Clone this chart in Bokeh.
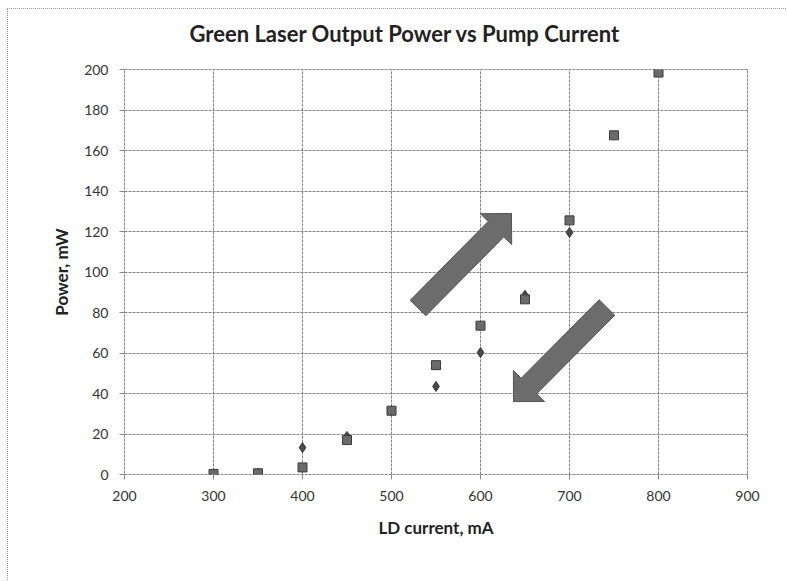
import numpy as np
from bokeh.plotting import figure
from bokeh.models import FixedTicker, Title
from bokeh.embed import file_html
from bokeh.resources import INLINE

# ---- data ----
current_sq = [300, 350, 400, 450, 500, 550, 600, 650, 700, 750, 800]
power_sq = [0.3, 0.6, 3.5, 17, 31.5, 54, 73.5, 86.5, 125.5, 167.5, 198.5]
current_di = [300, 350, 400, 450, 500, 550, 600, 650, 700]
power_di = [0.3, 0.6, 13.3, 18.8, 31.5, 43.5, 60.2, 88.5, 119.5]
x_ticks = [200, 300, 400, 500, 600, 700, 800, 900]
y_ticks = [0, 20, 40, 60, 80, 100, 120, 140, 160, 180, 200]

# arrow annotations (tail, tip) in data units
arrows = [((529.8, 82.2), (634.8, 128.9)),
          ((742.1, 82.5), (637.1, 36.0))]

FW, FH = 623, 405
X0, X1, Y0, Y1 = 200, 900, 0, 200
kx = FW / (X1 - X0)
ky = FH / (Y1 - Y0)
OFFX, OFFY = 8, 9          # margin + border of the figure element
ML, MT = 124 - OFFX, 69 - OFFY

p = figure(output_backend="svg", toolbar_location=None,
           frame_width=FW, frame_height=FH,
           x_range=(X0, X1), y_range=(Y0, Y1),
           min_border_left=ML, min_border_right=787 - OFFX - ML - FW - 1,
           min_border_top=MT, min_border_bottom=581 - OFFY - MT - FH - 1,
           background_fill_color="white", border_fill_color="white")
p.styles = {"margin-left": "7px", "margin-top": "8px",
            "border-left": "1px dotted #9a9a9a", "border-top": "1px dotted #9a9a9a"}

# spacer between the title and the frame
p.add_layout(Title(text=" ", text_font_size="5px", text_color="white"), "above")

p.title.text = "Green Laser Output Power vs Pump Current"
p.title.text_font = "Lato"
p.title.text_font_style = "bold"
p.title.text_font_size = "22px"
p.title.text_color = "#222222"
p.title.align = "left"
p.title.offset = 65

p.xaxis.ticker = FixedTicker(ticks=x_ticks)
p.yaxis.ticker = FixedTicker(ticks=y_ticks)
for ax in (p.xaxis, p.yaxis):
    ax.major_label_text_font = "Lato"
    ax.major_label_text_font_size = "14px"
    ax.major_label_text_color = "#333333"
    ax.axis_label_text_font = "Lato"
    ax.axis_label_text_font_style = "bold"
    ax.axis_label_text_font_size = "17px"
    ax.axis_label_text_color = "#222222"
    ax.axis_line_color = None
    ax.major_tick_line_color = "#888888"
    ax.major_tick_in = 0
    ax.major_tick_out = 5
    ax.minor_tick_line_color = None
p.xaxis.axis_label = "LD current, mA"
p.yaxis.axis_label = "Power, mW"
p.xaxis.major_label_standoff = 11
p.yaxis.major_label_standoff = 11
p.xaxis.axis_label_standoff = 13
p.yaxis.axis_label_standoff = 9

p.grid.grid_line_color = "#858585"
p.grid.grid_line_width = 1
p.grid.grid_line_dash = "3 1"
p.outline_line_color = "#858585"
p.outline_line_dash = "3 1"

# block arrows
def arrow_poly(tail, tip, shaft=22, head_w=44, head_len=22):
    tx, ty = (tail[0] - X0) * kx, tail[1] * ky
    hx, hy = (tip[0] - X0) * kx, tip[1] * ky
    d = np.array([hx - tx, hy - ty])
    d /= np.linalg.norm(d)
    n = np.array([-d[1], d[0]])
    T = np.array([tx, ty]); H = np.array([hx, hy])
    B = H - d * head_len
    pts = [T + n * shaft / 2, B + n * shaft / 2, B + n * head_w / 2, H,
           B - n * head_w / 2, B - n * shaft / 2, T - n * shaft / 2]
    xs = [pt[0] / kx + X0 for pt in pts]
    ys = [pt[1] / ky for pt in pts]
    return xs, ys

axs, ays = [], []
for tail, tip in arrows:
    a, b = arrow_poly(tail, tip)
    axs.append(a); ays.append(b)
p.patches(axs, ays, fill_color="#6c6c6c", line_color="#555555", line_width=1)

p.scatter(current_di, power_di, marker="diamond", size=10,
          fill_color="#4a4a4a", line_color="#333333")
p.scatter(current_sq, power_sq, marker="square", size=9,
          fill_color="#6a6a6a", line_color="#3a3a3a")

open("out.html", "w").write(file_html(p, INLINE))
